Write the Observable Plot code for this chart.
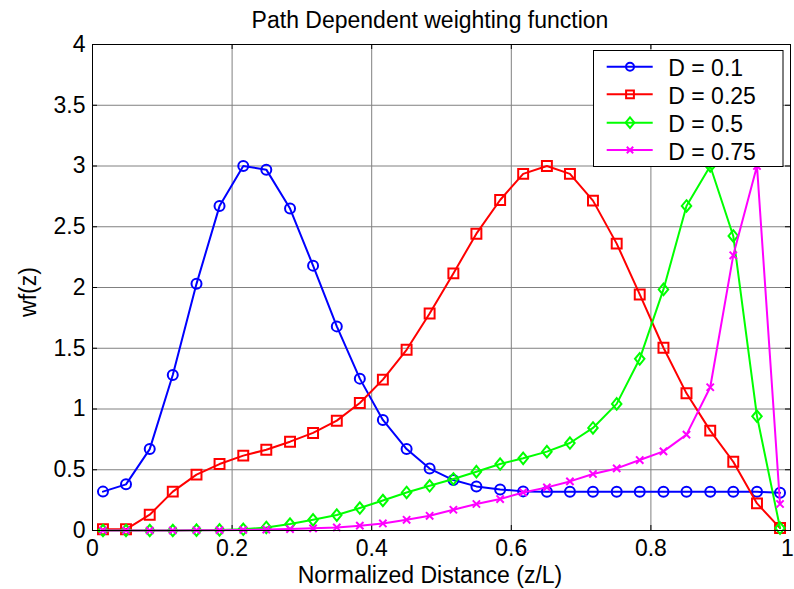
<!DOCTYPE html>
<html><head><meta charset="utf-8">
<script src="https://cdn.jsdelivr.net/npm/d3@7"></script>
<script src="https://cdn.jsdelivr.net/npm/@observablehq/plot@0.6"></script>
<style>html,body{margin:0;padding:0;background:#fff}svg{display:block}</style>
</head><body><div id="chart"></div>
<script>
// ---- data ----
const zL = [0.015,0.048,0.082,0.115,0.149,0.182,0.216,0.249,0.283,0.316,0.350,0.383,0.416,0.450,0.483,0.517,0.550,0.584,0.617,0.651,0.684,0.717,0.751,0.784,0.818,0.851,0.885,0.918,0.952,0.985];
const wfD010 = [0.32,0.38,0.67,1.28,2.03,2.67,3.0,2.97,2.65,2.18,1.68,1.25,0.91,0.67,0.51,0.415,0.363,0.338,0.322,0.318,0.318,0.318,0.318,0.318,0.318,0.318,0.318,0.318,0.318,0.31];
const wfD025 = [0.01,0.01,0.13,0.32,0.46,0.547,0.616,0.665,0.731,0.803,0.904,1.05,1.242,1.487,1.786,2.116,2.443,2.72,2.935,3.0,2.935,2.715,2.361,1.943,1.504,1.129,0.822,0.566,0.223,0.02];
const wfD050 = [0,0,0,0,0.003,0.005,0.01,0.025,0.053,0.088,0.127,0.185,0.247,0.313,0.368,0.424,0.484,0.547,0.594,0.649,0.72,0.844,1.042,1.413,1.984,2.671,3.0,2.424,0.94,0.02];
const wfD075 = [0,0,0,0,0.002,0.003,0.005,0.008,0.012,0.018,0.025,0.04,0.058,0.088,0.121,0.171,0.218,0.259,0.313,0.355,0.404,0.465,0.511,0.58,0.651,0.789,1.179,2.265,3.0,0.218];
const seriesNames = ["D = 0.1","D = 0.25","D = 0.5","D = 0.75"];
const seriesValues = [wfD010, wfD025, wfD050, wfD075];
const xTicks = [0,0.2,0.4,0.6,0.8,1];
const xTickLabels = ["0","0.2","0.4","0.6","0.8","1"];
const yTicks = [0,0.5,1,1.5,2,2.5,3,3.5,4];
const yTickLabels = ["0","0.5","1","1.5","2","2.5","3","3.5","4"];
const titleText = "Path Dependent weighting function";
const xLabelText = "Normalized Distance (z/L)";
const yLabelText = "wf(z)";

// ---- styles ----
const colors = ["#0000ff","#ff0000","#00ff00","#ff00ff"];
const diamondSym = {draw(ctx, size){const r=Math.sqrt(size/Math.PI);ctx.moveTo(0,-r*1.15);ctx.lineTo(r*0.95,0);ctx.lineTo(0,r*1.15);ctx.lineTo(-r*0.95,0);ctx.closePath();}};
const symbols = ["circle","square",diamondSym,"times"];
const radii = [5,5.6,5,3.4];
const legendRadii = [4,4.4,4.6,3];
const W=794,H=589,mL=92,mR=4,mT=44,mB=59;
const innerW=W-mL-mR, innerH=H-mT-mB;
const FONT="'Liberation Sans', Arial, Helvetica, sans-serif";

const rows = [];
seriesValues.forEach((vals,s)=>vals.forEach((v,i)=>rows.push({x:zL[i], y:v, s})));
const fmtX = d=>xTickLabels[xTicks.indexOf(d)];
const fmtY = d=>yTickLabels[yTicks.indexOf(d)];

const marks = [
  Plot.gridX(xTicks,{stroke:"#808080",strokeOpacity:1,strokeWidth:1}),
  Plot.gridY(yTicks,{stroke:"#808080",strokeOpacity:1,strokeWidth:1}),
  Plot.tickX(xTicks,{x:d=>d,insetTop:innerH-5,stroke:"#000"}),
  Plot.tickX(xTicks,{x:d=>d,insetBottom:innerH-5,stroke:"#000"}),
  Plot.tickY(yTicks,{y:d=>d,insetRight:innerW-5,stroke:"#000"}),
  Plot.tickY(yTicks,{y:d=>d,insetLeft:innerW-5,stroke:"#000"}),
  Plot.axisX(xTicks.slice(0,-1),{tickSize:0,tickPadding:9,label:null,tickFormat:fmtX,fill:"#000"}),
  Plot.axisX(xTicks.slice(-1),{tickSize:0,tickPadding:9,label:null,tickFormat:fmtX,fill:"#000",dx:-3}),
  Plot.axisY(yTicks,{tickSize:0,tickPadding:7,label:null,tickFormat:fmtY,fill:"#000"})
];
seriesValues.forEach((_,s)=>{
  const d = rows.filter(r=>r.s===s);
  marks.push(Plot.line(d,{x:"x",y:"y",stroke:colors[s],strokeWidth:2}));
  marks.push(Plot.dot(d,{x:"x",y:"y",stroke:colors[s],fill:"none",strokeWidth:2,symbol:symbols[s],r:radii[s]}));
});
marks.push(Plot.frame({stroke:"#000",strokeWidth:1}));

const chart = Plot.plot({
  width:W,height:H,marginLeft:mL,marginRight:mR,marginTop:mT,marginBottom:mB,
  x:{domain:[0,1]}, y:{domain:[0,4]},
  style:{fontFamily:FONT,fontSize:"23px",background:"#fff",color:"#000",overflow:"visible"},
  marks
});
document.getElementById("chart").appendChild(chart);

const svg = d3.select(chart);
const cx = 430;
svg.append("text").attr("x",cx).attr("y",27.7).attr("text-anchor","middle")
  .style("font-family",FONT).style("font-size","23px").attr("fill","#000").text(titleText);
svg.append("text").attr("x",cx).attr("y",583.3).attr("text-anchor","middle")
  .style("font-family",FONT).style("font-size","23px").attr("fill","#000").text(xLabelText);
svg.append("text").attr("transform","translate(36,292) rotate(-90)").attr("text-anchor","middle")
  .style("font-family",FONT).style("font-size","23px").attr("fill","#000").text(yLabelText);

// legend
const lg = svg.append("g");
lg.append("rect").attr("x",593.5).attr("y",50.5).attr("width",189.5).attr("height",116)
  .attr("fill","#fff").attr("stroke","#000").attr("stroke-width",1);
const rowY=[66.7,94.3,122.7,150];
const d3sym = [d3.symbolCircle,d3.symbolSquare,diamondSym,d3.symbolTimes];
seriesNames.forEach((name,s)=>{
  const y=rowY[s];
  lg.append("line").attr("x1",606.7).attr("x2",652.7).attr("y1",y).attr("y2",y)
    .attr("stroke",colors[s]).attr("stroke-width",2);
  lg.append("path").attr("transform",`translate(630,${y})`)
    .attr("d",d3.symbol(d3sym[s],Math.PI*legendRadii[s]*legendRadii[s])())
    .attr("fill","none").attr("stroke",colors[s]).attr("stroke-width",2);
  lg.append("text").attr("x",668.3).attr("y",y+9.5).attr("text-anchor","start")
    .style("font-family",FONT).style("font-size","23px").attr("fill","#000").text(name);
});
</script></body></html>
